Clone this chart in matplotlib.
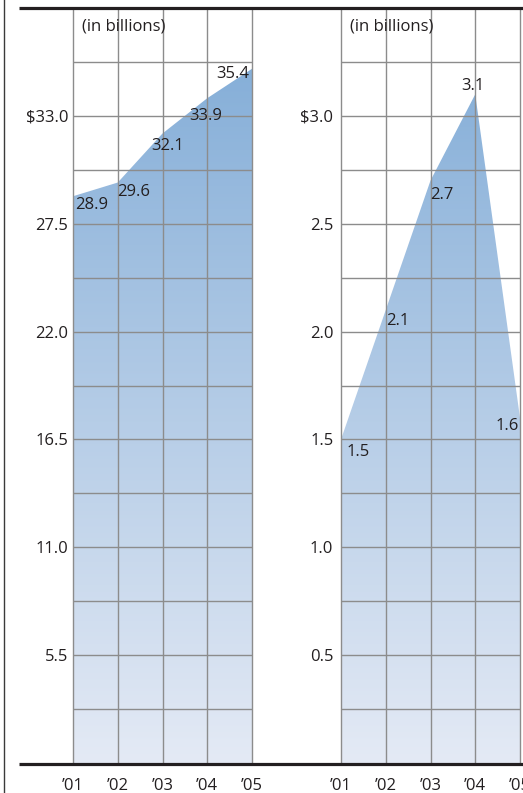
import numpy as np
import matplotlib
matplotlib.use("Agg")
import matplotlib.pyplot as plt
from matplotlib.colors import LinearSegmentedColormap
from matplotlib.lines import Line2D
from matplotlib.patches import Polygon

plt.rcParams['font.family'] = ['Open Sans', 'DejaVu Sans']

# Data
years = ['\u201901', '\u201902', '\u201903', '\u201904', '\u201905']
revenue = [28.9, 29.6, 32.1, 33.9, 35.4]
net_income = [1.5, 2.1, 2.7, 3.1, 1.6]

revenue_ticks = [5.5, 11.0, 16.5, 22.0, 27.5, 33.0]
income_ticks = [0.5, 1.0, 1.5, 2.0, 2.5, 3.0]

# value label offsets (pixels from the data point)
revenue_offsets = [(19, -9), (16, -9), (5, -12), (-2, -18), (-19, -5)]
income_offsets = [(17, -13), (12, -11), (11, -14), (-2, 8), (-13, -8)]

TEXT = '#231f20'
GRID = '#8c8c8c'
FS = 12

cmap = LinearSegmentedColormap.from_list('fade', ['#e4eaf5', '#7eaad6'])


def draw_panel(ax, values, step, ticks, offsets, ypad):
    top = step * 14
    x = np.arange(len(values))
    ax.set_xlim(0, len(values) - 1)
    ax.set_ylim(0, top)

    # vertical gradient clipped to the area under the series
    grad = np.linspace(0, 1, 256).reshape(-1, 1)
    im = ax.imshow(grad, extent=(0, len(values) - 1, 0, top), origin='lower',
                   cmap=cmap, aspect='auto', zorder=1, interpolation='bilinear')
    verts = [(0, 0)] + list(zip(x, values)) + [(len(values) - 1, 0)]
    area = Polygon(verts, closed=True, facecolor='none', edgecolor='none',
                   transform=ax.transData)
    ax.add_patch(area)
    im.set_clip_path(area)

    # grid
    for i in x:
        ax.axvline(i, color=GRID, lw=1.0, zorder=2, clip_on=False)
    for k in range(1, 14):
        ax.axhline(k * step, color=GRID, lw=1.0, zorder=2)

    for i, (v, off) in enumerate(zip(values, offsets)):
        ax.annotate(f'{v:.1f}', (i, v), xytext=off, textcoords='offset pixels',
                    ha='center', va='center', fontsize=FS, color=TEXT, zorder=3)

    ax.text(0.05, 0.975, '(in billions)', transform=ax.transAxes,
            ha='left', va='center', fontsize=FS, color=TEXT, zorder=3)

    ax.set_xticks(x)
    ax.set_xticklabels(years)
    ax.set_yticks(ticks)
    labels = [f'{t:.1f}' for t in ticks]
    labels[-1] = r'\$' + labels[-1]
    ax.set_yticklabels(labels)
    ax.tick_params(axis='both', length=0, labelsize=FS, colors=TEXT)
    ax.tick_params(axis='x', pad=11)
    ax.tick_params(axis='y', pad=ypad)
    for s in ax.spines.values():
        s.set_visible(False)


W, H = 523, 793
fig = plt.figure(figsize=(W / 100, H / 100), dpi=100)

ax1 = fig.add_axes([73 / W, 1 - 763 / H, 179 / W, 755 / H])
ax2 = fig.add_axes([341 / W, 1 - 763 / H, 179 / W, 755 / H])

draw_panel(ax1, revenue, 2.75, revenue_ticks, revenue_offsets, 3.5)
draw_panel(ax2, net_income, 0.25, income_ticks, income_offsets, 5.5)

# frame rules
fig.add_artist(Line2D([19 / W, 1], [1 - 7.5 / H] * 2, transform=fig.transFigure,
                      color=TEXT, lw=2.3, solid_capstyle='butt'))
fig.add_artist(Line2D([19 / W, 1], [1 - 763.5 / H] * 2, transform=fig.transFigure,
                      color=TEXT, lw=2.3, solid_capstyle='butt'))
fig.add_artist(Line2D([3.5 / W] * 2, [0, 1], transform=fig.transFigure,
                      color='#3a3a3a', lw=1.0))

fig.savefig('out.png', dpi=100)
